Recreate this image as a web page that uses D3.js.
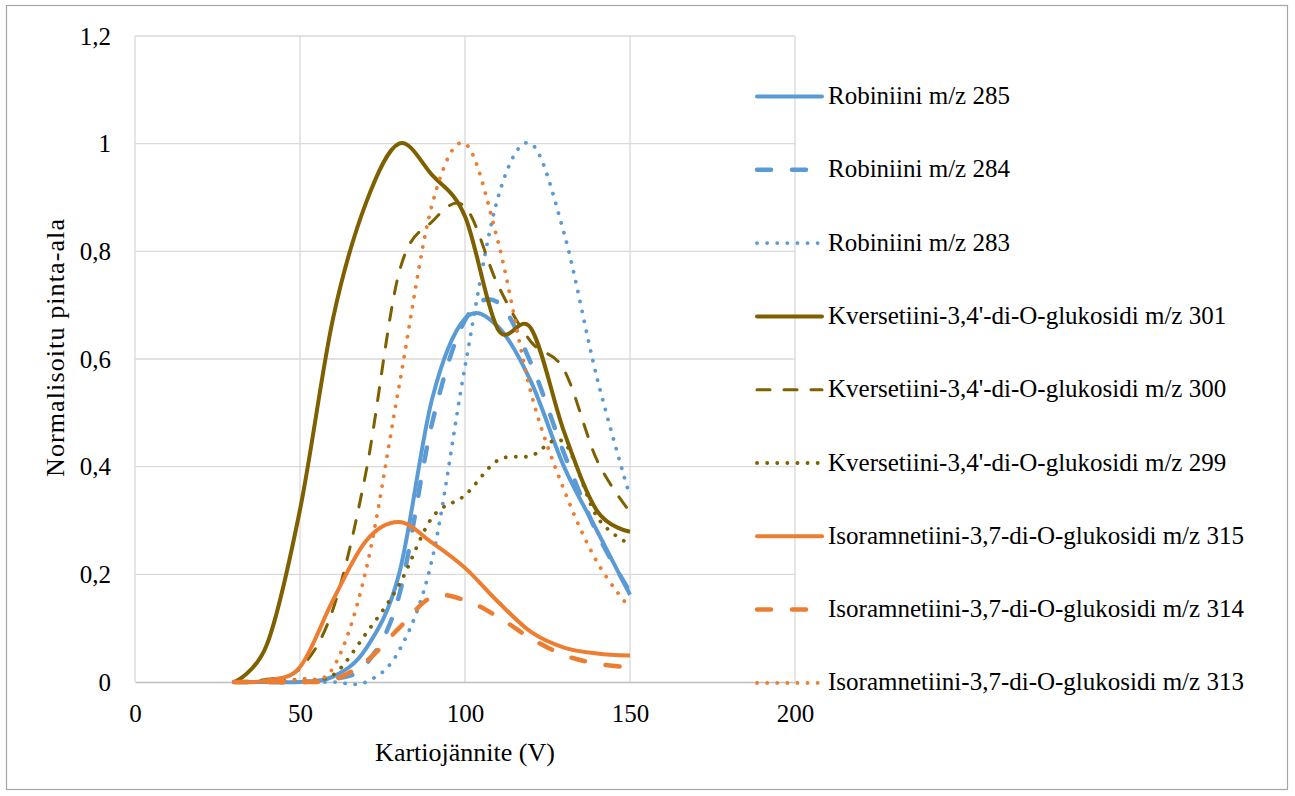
<!DOCTYPE html>
<html>
<head>
<meta charset="utf-8">
<script src="https://cdn.jsdelivr.net/npm/d3@7"></script>
<style>
  body { margin: 0; background: #fff; }
  svg { font-family: "Liberation Serif", "Times New Roman", serif; }
  text { font-family: "Liberation Serif", "Times New Roman", serif; fill: #000; }
</style>
</head>
<body>
<svg id="chart"></svg>
<script>
// Cone voltage (V) shared by every series
const voltages = [30, 40, 50, 60, 70, 80, 90, 100, 110, 120, 130, 140, 150];

// Normalised peak areas
const rob285 = [0, 0, 0, 0.01, 0.062, 0.2, 0.525, 0.675, 0.66, 0.558, 0.40, 0.281, 0.162];
const rob284 = [0, 0, 0, 0.005, 0.033, 0.16, 0.48, 0.672, 0.705, 0.592, 0.425, 0.277, 0.167];
const rob283 = [0, 0, 0, 0, 0, 0.058, 0.227, 0.586, 0.90, 1.0, 0.834, 0.565, 0.344];
const kv301 = [0, 0.07, 0.32, 0.675, 0.89, 1.0, 0.942, 0.865, 0.655, 0.657, 0.465, 0.318, 0.279];
const kv300 = [0, 0.005, 0.025, 0.135, 0.39, 0.76, 0.855, 0.883, 0.737, 0.632, 0.58, 0.412, 0.316];
const kv299 = [0, 0, 0.005, 0.013, 0.09, 0.18, 0.305, 0.347, 0.412, 0.42, 0.445, 0.307, 0.256];
const iso315 = [0, 0.003, 0.028, 0.152, 0.262, 0.297, 0.259, 0.212, 0.149, 0.093, 0.064, 0.053, 0.049];
const iso314 = [0, 0, 0, 0.004, 0.038, 0.10, 0.158, 0.152, 0.121, 0.081, 0.05, 0.034, 0.027];
const iso313 = [0, 0, 0.005, 0.026, 0.208, 0.549, 0.886, 1.0, 0.818, 0.537, 0.357, 0.223, 0.137];

const seriesNames = [
  "Robiniini m/z 285",
  "Robiniini m/z 284",
  "Robiniini m/z 283",
  "Kversetiini-3,4'-di-O-glukosidi m/z 301",
  "Kversetiini-3,4'-di-O-glukosidi m/z 300",
  "Kversetiini-3,4'-di-O-glukosidi m/z 299",
  "Isoramnetiini-3,7-di-O-glukosidi m/z 315",
  "Isoramnetiini-3,7-di-O-glukosidi m/z 314",
  "Isoramnetiini-3,7-di-O-glukosidi m/z 313"
];
const seriesValues = [rob285, rob284, rob283, kv301, kv300, kv299, iso315, iso314, iso313];

const xTicks = [0, 50, 100, 150, 200];
const yTicks = [0, 0.2, 0.4, 0.6, 0.8, 1, 1.2];

// Line look per series: colour, width, dash pattern
const blue = "#5b9bd5", brown = "#7f6000", orange = "#ed7d31";
const styles = [
  { color: blue, width: 4, dash: null },
  { color: blue, width: 4.5, dash: "14,21" },
  { color: blue, width: 3.8, dash: "0.1,10" },
  { color: brown, width: 4, dash: null },
  { color: brown, width: 3, dash: "13,14" },
  { color: brown, width: 3.8, dash: "0.1,10" },
  { color: orange, width: 4, dash: null },
  { color: orange, width: 4.5, dash: "14,21" },
  { color: orange, width: 3.8, dash: "0.1,10" }
];

const width = 1295, height = 796;
const plot = { left: 135, right: 795, top: 36, bottom: 682 };

const svg = d3.select("#chart").attr("width", width).attr("height", height);

svg.append("rect")
  .attr("x", 6.5).attr("y", 5.5)
  .attr("width", 1281).attr("height", 784)
  .attr("fill", "#fff")
  .attr("stroke", "#a6a6a6")
  .attr("stroke-width", 1.2);

const x = d3.scaleLinear().domain([0, 200]).range([plot.left, plot.right]);
const y = d3.scaleLinear().domain([0, 1.2]).range([plot.bottom, plot.top]);

const fmt = d => String(+d.toFixed(1)).replace(".", ",");

// Gridlines
svg.append("g")
  .selectAll("line")
  .data(yTicks.slice(1))
  .enter()
  .append("line")
  .attr("x1", plot.left).attr("x2", plot.right)
  .attr("y1", d => y(d)).attr("y2", d => y(d))
  .attr("stroke", "#d9d9d9")
  .attr("stroke-width", 1.3);

svg.append("g")
  .selectAll("line")
  .data(xTicks)
  .enter()
  .append("line")
  .attr("x1", d => x(d)).attr("x2", d => x(d))
  .attr("y1", plot.top).attr("y2", plot.bottom)
  .attr("stroke", "#d9d9d9")
  .attr("stroke-width", 1.3);

// Axes (labels only, Excel style)
const xAxis = svg.append("g")
  .attr("transform", `translate(0,${plot.bottom})`)
  .call(d3.axisBottom(x).tickValues(xTicks).tickSize(0).tickPadding(22));
xAxis.select(".domain").attr("stroke", "#bfbfbf").attr("stroke-width", 1.5);
xAxis.selectAll("text").attr("font-size", "25px").attr("font-family", "Liberation Serif");

const yAxis = svg.append("g")
  .attr("transform", `translate(${plot.left},0)`)
  .call(d3.axisLeft(y).tickValues(yTicks).tickSize(0).tickPadding(24).tickFormat(fmt));
yAxis.select(".domain").remove();
yAxis.selectAll("text").attr("font-size", "25px").attr("font-family", "Liberation Serif");

// Axis titles
svg.append("text")
  .attr("x", (plot.left + plot.right) / 2)
  .attr("y", 761)
  .attr("text-anchor", "middle")
  .attr("font-size", "26px")
  .text("Kartiojännite (V)");

svg.append("text")
  .attr("transform", `translate(64,348) rotate(-90)`)
  .attr("text-anchor", "middle")
  .attr("font-size", "26px")
  .attr("textLength", 258)
  .attr("lengthAdjust", "spacing")
  .text("Normalisoitu pinta-ala");

// Smoothed series lines
const line = d3.line()
  .x((d, i) => x(voltages[i]))
  .y(d => y(d))
  .curve(d3.curveCardinal.tension(0));

svg.append("g")
  .selectAll("path")
  .data(seriesValues)
  .enter()
  .append("path")
  .attr("d", line)
  .attr("fill", "none")
  .attr("stroke", (d, i) => styles[i].color)
  .attr("stroke-width", (d, i) => styles[i].width)
  .attr("stroke-dasharray", (d, i) => styles[i].dash)
  .attr("stroke-linecap", (d, i) => styles[i].dash ? "round" : "butt")
  .attr("stroke-linejoin", "round");

// Legend
const legend = svg.append("g")
  .selectAll("g")
  .data(seriesNames)
  .enter()
  .append("g")
  .attr("transform", (d, i) => `translate(0,${96.5 + i * 73.3})`);

legend.append("line")
  .attr("x1", 757).attr("x2", 822)
  .attr("stroke", (d, i) => styles[i].color)
  .attr("stroke-width", (d, i) => styles[i].width)
  .attr("stroke-dasharray", (d, i) => styles[i].dash)
  .attr("stroke-linecap", "round");

legend.append("text")
  .attr("x", 828)
  .attr("dy", "0.3em")
  .attr("font-size", "25px")
  .text(d => d);
</script>
</body>
</html>
